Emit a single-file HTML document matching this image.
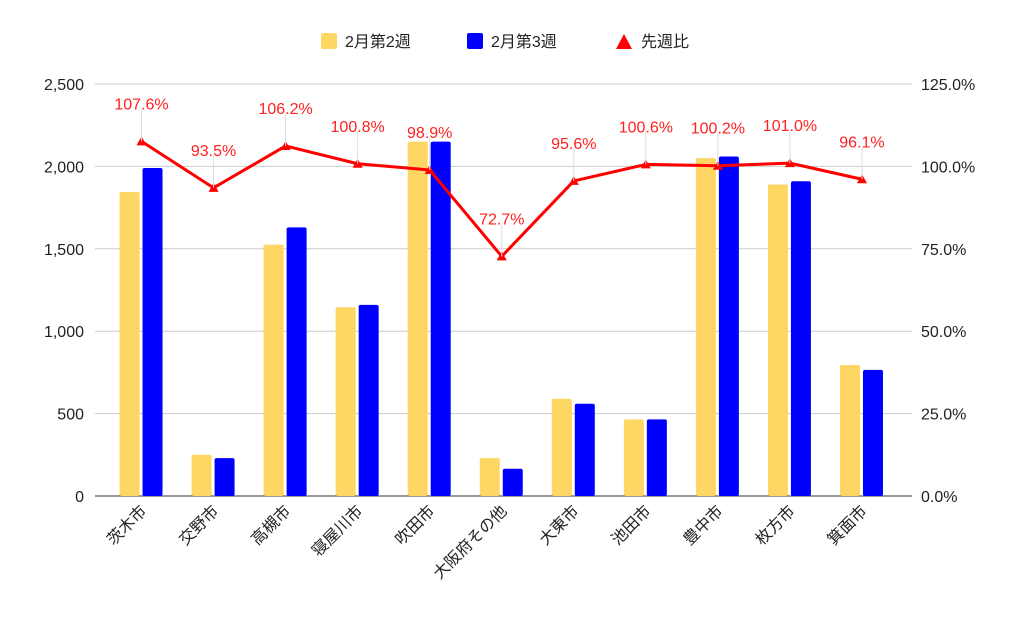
<!DOCTYPE html>
<html><head><meta charset="utf-8"><style>
body{margin:0;background:#fff}
svg text{font-family:"Liberation Sans","Noto Sans CJK JP",sans-serif}
</style></head><body>
<svg id="c" width="1024" height="633" xmlns="http://www.w3.org/2000/svg">
<g>
<rect x="321" y="33" width="16" height="16" rx="2" fill="#fdd663"/>
<text x="345" y="47" font-size="16" fill="#222">2月第2週</text>
<rect x="467" y="33" width="16" height="16" rx="2" fill="#0000ff"/>
<text x="491" y="47" font-size="16" fill="#222">2月第3週</text>
<path d="M616 49 L624 34 L632 49 Z" fill="#ff0000"/>
<text x="641" y="47" font-size="16" fill="#222">先週比</text>
</g>
<g id="grid"></g><g id="bars"></g><g id="line"></g><g id="labels"></g>
</svg>
<script>
const categories=["茨木市","交野市","高槻市","寝屋川市","吹田市","大阪府その他","大東市","池田市","豊中市","枚方市","箕面市"];
const week2=[1845,250,1525,1145,2150,230,590,465,2050,1890,795];
const week3=[1990,230,1630,1160,2150,165,560,465,2060,1910,765];
const ratio=[107.6,93.5,106.2,100.8,98.9,72.7,95.6,100.6,100.2,101.0,96.1];
const leftTicks=[0,500,1000,1500,2000,2500];
const leftTickLabels=["0","500","1,000","1,500","2,000","2,500"];
const rightTicks=[0,25,50,75,100,125];
const rightTickLabels=["0.0%","25.0%","50.0%","75.0%","100.0%","125.0%"];
const NS="http://www.w3.org/2000/svg";
const y0=496,yTop=84,pL=105.5,pR=898,gL=95,gR=912;
const yL=v=>y0-(v/2500)*(y0-yTop);
const yR=v=>y0-(v/125)*(y0-yTop);
const step=(pR-pL)/categories.length;
const xC=i=>pL+step*(i+0.5);
function mk(t,a,p){const e=document.createElementNS(NS,t);for(const k in a)e.setAttribute(k,a[k]);p.appendChild(e);return e;}
const grid=document.getElementById('grid');
leftTicks.forEach((v,i)=>{
 const l=mk('line',{x1:gL,x2:gR,y1:yL(v),y2:yL(v),stroke:i==0?'#333':'#ccc','stroke-width':1},grid);
 
 
 const t=mk('text',{x:84,y:yL(v)+6,'text-anchor':'end','font-size':16,fill:'#222'},grid);
 t.textContent=leftTickLabels[i];
 
 
});
rightTicks.forEach((v,i)=>{
 const t=mk('text',{x:921,y:yR(v)+6,'font-size':16,fill:'#222'},grid);
 t.textContent=rightTickLabels[i];
 
 
});
const bars=document.getElementById('bars');
categories.forEach((c,i)=>{
 const cx=xC(i);
 const b1=mk('rect',{x:cx-22,y:yL(week2[i]),width:20,height:y0-yL(week2[i]),rx:2,fill:'#fdd663'},bars);
 
 
 const b2=mk('rect',{x:cx+1,y:yL(week3[i]),width:20,height:y0-yL(week3[i]),rx:2,fill:'#0000ff'},bars);
 
 
 const t=mk('text',{transform:`translate(${cx+6},${y0+16}) rotate(-45)`,'text-anchor':'end','font-size':16,fill:'#222'},bars);
 t.textContent=c;
 
 
});
const line=document.getElementById('line'),labels=document.getElementById('labels');
const pts=ratio.map((v,i)=>[xC(i),yR(v)]);
const pl=mk('polyline',{points:pts.map(p=>p.join(',')).join(' '),fill:'none',stroke:'#ff0000','stroke-width':3,'stroke-linejoin':'round'},line);


pts.forEach((p,i)=>{
 const ld=mk('line',{x1:p[0],x2:p[0],y1:p[1]-32,y2:p[1],stroke:'#ddd','stroke-width':1},labels);
 
 
 const m=mk('path',{d:`M${p[0]-5} ${p[1]+4} L${p[0]} ${p[1]-5} L${p[0]+5} ${p[1]+4} Z`,fill:'#ff0000'},line);
 
 
 const t=mk('text',{x:p[0],y:p[1]-32,'text-anchor':'middle','font-size':16,fill:'#ff2020'},labels);
 t.textContent=ratio[i].toFixed(1)+'%';
 
 
});
</script>
</body></html>
